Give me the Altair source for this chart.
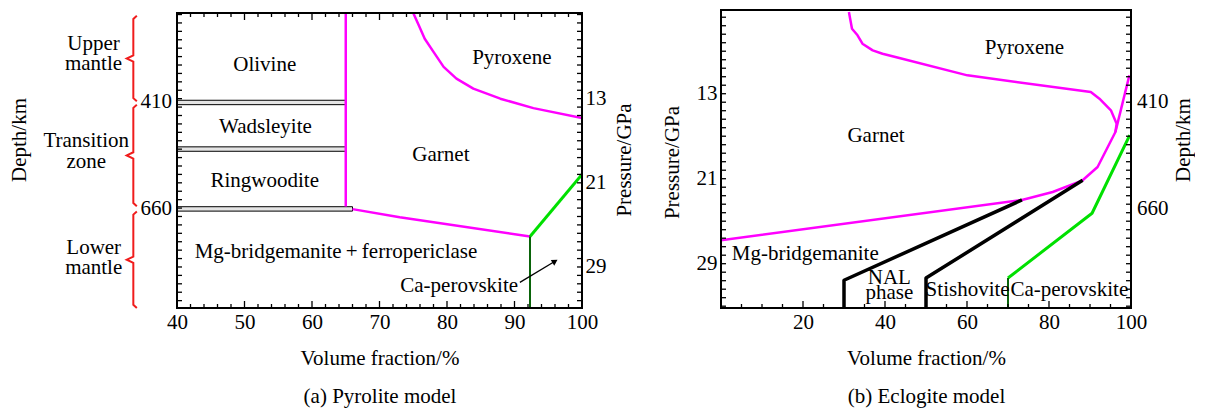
import altair as alt
import pandas as pd

FONT = "Liberation Serif"
FS = 21
MAGENTA = "#ff00ff"
GREEN = "#00e000"
DKGREEN = "#0a640a"
RED = "#f01c1c"

# ======================= (a) Pyrolite model =======================
a_x_domain = [40, 100]
a_p_domain = [4.57, 32.9]          # pressure (GPa) of the view, top -> bottom
a_frame_p = [4.85, 32.9]           # pressure range of the framed plot
a_x_labels = [40, 50, 60, 70, 80, 90, 100]
a_p_labels = [13, 21, 29]
a_depth_labels = ["410", "660"]
a_depth_label_p = [13.34, 23.46]   # pressure level at which each depth sits

a_pyx_x = [75.0, 75.8, 76.7, 78.0, 79.5, 81.4, 83.9, 87.9, 92.8, 100.0]
a_pyx_p = [4.85, 6.0, 7.3, 8.55, 9.98, 11.1, 12.05, 13.0, 13.9, 14.84]

a_olv_x = [65, 65]
a_olv_p = [4.85, 23.25]

a_gt_x = [66.0, 73.0, 92.3]
a_gt_p = [23.5, 24.27, 26.1]

a_capv_x = [92.3, 100.0]
a_capv_p = [26.1, 20.2]
a_capv_base_x = [92.3, 92.3]
a_capv_base_p = [26.1, 32.9]

a_bar_p = [13.36, 17.79, 23.48]
a_bar_end = [65, 65, 66]

a_arrow_x = [90.8, 96.0]
a_arrow_p = [30.46, 28.46]

a_label_text = ["Olivine", "Wadsleyite", "Ringwoodite", "Garnet", "Pyroxene",
                "Mg-bridgemanite\u2009+\u2009ferropericlase", "Ca-perovskite"]
a_label_x = [53.0, 53.1, 53.0, 79.1, 89.6, 63.55, 81.8]
a_label_p = [9.82, 15.65, 20.8, 18.39, 9.12, 27.6, 30.77]

zone_line_text = ["Upper", "mantle", "Transition", "zone", "Lower", "mantle"]
zone_line_x = [27.63, 27.63, 26.55, 26.55, 27.66, 27.66]
zone_line_p = [7.84, 9.74, 17.03, 19.03, 27.2, 29.12]
zone_top = [5.12, 13.57, 23.72]
zone_bottom = [13.25, 23.22, 32.9]

# ======================= (b) Eclogite model =======================
b_x_domain = [0, 100]
b_p_domain = [5.12, 33.17]
b_frame_p = [5.12, 33.17]
b_x_labels = [20, 40, 60, 80, 100]
b_p_labels = [13, 21, 29]
b_depth_labels = ["410", "660"]
b_depth_label_p = [13.78, 23.82]

b_pyx_x = [31.2, 31.5, 31.95, 33.3, 34.5, 37.0, 39.4, 43.5, 60.1, 90.2, 92.3,
           95.1, 96.5, 96.2, 91.85, 88.2, 80.9, 73.4, 0.0]
b_pyx_p = [5.3, 5.94, 6.88, 7.5, 8.29, 8.92, 9.24, 9.64, 11.27, 12.84, 13.47,
           14.56, 15.82, 16.6, 19.9, 21.15, 22.25, 23.0, 26.8]
b_pyx2_x = [96.2, 99.6]
b_pyx2_p = [16.6, 11.27]

b_nal_x = [30.0, 30.0, 73.4]
b_nal_p = [33.17, 30.56, 23.0]
b_st_x = [50.0, 50.0, 88.2]
b_st_p = [33.17, 30.35, 21.15]
b_capv_x = [70.0, 90.5, 99.7]
b_capv_p = [30.35, 24.25, 16.9]
b_capv_base_x = [70.0, 70.0]
b_capv_base_p = [30.35, 33.17]

b_label_text = ["Pyroxene", "Garnet", "Mg-bridgemanite", "NAL", "phase",
                "Stishovite", "Ca-perovskite"]
b_label_x = [74.0, 37.8, 20.56, 41.05, 41.05, 60.15, 84.95]
b_label_p = [8.7, 17.0, 28.06, 30.3, 31.76, 31.47, 31.47]

# ======================= layout / style =======================
W_A, H_A = 405, 298
W_B, H_B = 410, 298
A_FRAME_TOP = 3          # px: panel (a) frame starts lower than panel (b)
TICK_MINOR, TICK_MAJOR = 4, 7


def frame(**cols):
    return pd.DataFrame(cols)


def scale(domain, reverse=False):
    if reverse:
        return alt.Scale(domain=domain, nice=False, zero=False, reverse=True)
    return alt.Scale(domain=domain, nice=False, zero=False)


def ax(**kw):
    base = dict(ticks=False, domain=False, grid=False, labelFont=FONT,
                labelFontSize=FS, labelColor="black", labelOverlap=False,
                titleFont=FONT, titleFontSize=FS, titleFontWeight="normal",
                titleColor="black")
    base.update(kw)
    return alt.Axis(**base)


class Panel:
    """Every layer of a panel shares the same scales and the same axis definitions."""

    def __init__(self, xdom, pdom, xaxis, yaxis, W, H):
        self.xs, self.ys = scale(xdom), scale(pdom, reverse=True)
        self.xaxis, self.yaxis = xaxis, yaxis
        self.W, self.H = W, H

    def X(self, f="x"):
        return alt.X(f"{f}:Q", scale=self.xs, axis=self.xaxis)

    def Y(self, f="p"):
        return alt.Y(f"{f}:Q", scale=self.ys, axis=self.yaxis)

    def line(self, xv, pv, color, width, clip=True):
        d = frame(x=xv, p=pv, i=list(range(len(xv))))
        return alt.Chart(d).mark_line(color=color, strokeWidth=width, clip=clip,
                                      strokeJoin="round").encode(
            x=self.X(), y=self.Y(), order="i:Q")

    def labels(self, txt, xv, pv, align="center", angle=0):
        d = frame(t=txt, x=xv, p=pv)
        kw = dict(font=FONT, fontSize=FS, color="black", align=align,
                  baseline="middle", clip=False)
        if angle:
            kw["angle"] = angle
        return alt.Chart(d).mark_text(**kw).encode(x=self.X(), y=self.Y(), text="t:N")

    def box(self, xdom, pdom):
        d = frame(x1=[xdom[0]], x2=[xdom[1]], p1=[pdom[0]], p2=[pdom[1]])
        return alt.Chart(d).mark_rect(fillOpacity=0, stroke="black", strokeWidth=2).encode(
            x=self.X("x1"), x2="x2:Q", y=self.Y("p1"), y2="p2:Q")

    def xticks(self, vals, y0, length, down=False):
        y2 = y0 + length if down else y0 - length
        return alt.Chart(frame(x=vals)).mark_rule(color="black", strokeWidth=1.3).encode(
            x=self.X(), y=alt.value(y0), y2=alt.value(y2))

    def yticks(self, vals, length, right=False):
        x1, x2 = (self.W - length, self.W) if right else (0, length)
        return alt.Chart(frame(p=vals)).mark_rule(color="black", strokeWidth=1.3).encode(
            y=self.Y(), x=alt.value(x1), x2=alt.value(x2))


def p_ticks(dom):
    vals = []
    k = -20
    while 13 + 0.8 * k <= dom[1]:
        v = round(13 + 0.8 * k, 3)
        if v >= dom[0]:
            vals.append(v)
        k += 1
    return vals


# ----------------------- panel (a) -----------------------
x_axis_a = ax(orient="bottom", values=a_x_labels, format="d", labelPadding=3,
              labelFlush=False, title=["Volume fraction/%", "(a) Pyrolite model"],
              titleX=W_A / 2, titleY=56.7, titleAlign="center",
              titleBaseline="alphabetic", titleLineHeight=38.3)
p_axis_a = ax(orient="right", values=a_p_labels, labelPadding=3, labelAlign="left",
              labelBaseline="middle", title="Pressure/GPa", titleAngle=270,
              titleX=42, titleY=149.5, titleAlign="center", titleBaseline="middle")
A = Panel(a_x_domain, a_p_domain, x_axis_a, p_axis_a, W_A, H_A)

a_minor_x = [v for v in range(40, 101, 2) if v % 10]
a_major_x = [v for v in range(40, 101, 10)]
a_pt = p_ticks(a_frame_p)

bars = frame(x1=[a_x_domain[0]] * 3, x2=a_bar_end,
             p1=[p - 0.21 for p in a_bar_p], p2=[p + 0.21 for p in a_bar_p])
bar_layer = alt.Chart(bars).mark_rect(fill="#e4e4e4", stroke="black", strokeWidth=1).encode(
    x=A.X("x1"), x2="x2:Q", y=A.Y("p1"), y2="p2:Q")

# braces (outside the plot frame, left of the depth labels)
BR_X, BR_HOOK, BR_NUB, BR_CURL = 33.53, 34.05, 32.55, 0.3
br_rows = []
for g, (t, b) in enumerate(zip(zone_top, zone_bottom)):
    m = (t + b) / 2
    pts = [(BR_HOOK, t), (BR_X, t + BR_CURL), (BR_X, m - BR_CURL), (BR_NUB, m),
           (BR_X, m + BR_CURL), (BR_X, b - BR_CURL), (BR_HOOK, b)]
    for i, (xx, pp) in enumerate(pts):
        br_rows.append({"g": g, "i": i, "x": xx, "p": pp})
brace_layer = alt.Chart(pd.DataFrame(br_rows)).mark_line(
    color=RED, strokeWidth=2, clip=False).encode(
    x=A.X(), y=A.Y(), detail="g:N", order="i:Q")

arrow_head = alt.Chart(frame(x=a_arrow_x[-1:], p=a_arrow_p[-1:])).mark_point(
    shape="triangle-up", filled=True, size=45, angle=59, color="black", opacity=1).encode(
    x=A.X(), y=A.Y())

A_DEPTH_LABEL_X = a_x_domain[0] - 5 / 6.75
A_DEPTH_TITLE_X, A_DEPTH_TITLE_P = 16.74, 16.93

panel_a = alt.layer(
    bar_layer,
    A.line(a_olv_x, a_olv_p, MAGENTA, 2.5),
    A.line(a_pyx_x, a_pyx_p, MAGENTA, 2.5),
    A.line(a_gt_x, a_gt_p, MAGENTA, 2.5),
    A.line(a_capv_x, a_capv_p, GREEN, 3),
    A.line(a_capv_base_x, a_capv_base_p, DKGREEN, 2),
    A.line(a_arrow_x, a_arrow_p, "black", 1.3),
    arrow_head,
    A.labels(a_label_text, a_label_x, a_label_p),
    brace_layer,
    A.labels(zone_line_text, zone_line_x, zone_line_p),
    A.labels(a_depth_labels, [A_DEPTH_LABEL_X] * 2, a_depth_label_p, align="right"),
    A.labels(["Depth/km"], [A_DEPTH_TITLE_X], [A_DEPTH_TITLE_P], angle=270),
    A.xticks(a_major_x, H_A, TICK_MAJOR),
    A.xticks(a_minor_x, H_A, TICK_MINOR),
    A.xticks(a_major_x, A_FRAME_TOP, TICK_MAJOR, down=True),
    A.xticks(a_minor_x, A_FRAME_TOP, TICK_MINOR, down=True),
    A.yticks(a_pt, 5),
    A.yticks(a_pt, 5, right=True),
    A.box(a_x_domain, a_frame_p),
).properties(width=W_A, height=H_A)

# ----------------------- panel (b) -----------------------
x_axis_b = ax(orient="bottom", values=b_x_labels, format="d", labelPadding=3,
              labelFlush=False, title=["Volume fraction/%", "(b) Eclogite model"],
              titleX=W_B / 2, titleY=56.7, titleAlign="center",
              titleBaseline="alphabetic", titleLineHeight=38.3)
p_axis_b = ax(orient="left", values=b_p_labels, labelPadding=4, labelAlign="right",
              labelBaseline="middle", title="Pressure/GPa", titleAngle=270,
              titleX=-48.7, titleY=152, titleAlign="center", titleBaseline="middle")
B = Panel(b_x_domain, b_p_domain, x_axis_b, p_axis_b, W_B, H_B)

b_minor_x = [v for v in range(0, 101, 5) if v % 20]
b_major_x = [v for v in range(0, 101, 20)]
b_pt = p_ticks(b_frame_p)

B_DEPTH_LABEL_X = b_x_domain[1] + 6 / 4.1
B_DEPTH_TITLE_X, B_DEPTH_TITLE_P = 112.9, 17.36

panel_b = alt.layer(
    B.line(b_pyx_x, b_pyx_p, MAGENTA, 2.5),
    B.line(b_pyx2_x, b_pyx2_p, MAGENTA, 2.5),
    B.line(b_nal_x, b_nal_p, "black", 3.5),
    B.line(b_st_x, b_st_p, "black", 3.5),
    B.line(b_capv_x, b_capv_p, GREEN, 3),
    B.line(b_capv_base_x, b_capv_base_p, DKGREEN, 2),
    B.labels(b_label_text, b_label_x, b_label_p),
    B.labels(b_depth_labels, [B_DEPTH_LABEL_X] * 2, b_depth_label_p, align="left"),
    B.labels(["Depth/km"], [B_DEPTH_TITLE_X], [B_DEPTH_TITLE_P], angle=270),
    B.xticks(b_major_x, H_B, TICK_MAJOR),
    B.xticks(b_minor_x, H_B, TICK_MINOR),
    B.yticks(b_pt, 5),
    B.yticks(b_pt, 5, right=True),
    B.box(b_x_domain, b_frame_p),
).properties(width=W_B, height=H_B)

# ----------------------- assemble -----------------------
chart = alt.hconcat(panel_a, panel_b, spacing=139, bounds="flush").properties(
    padding={"left": 0, "top": 0, "right": 0, "bottom": 0},
    background="white",
).configure_view(stroke="transparent")

chart.save("out.html", embed_options={"renderer": "svg", "actions": False})
